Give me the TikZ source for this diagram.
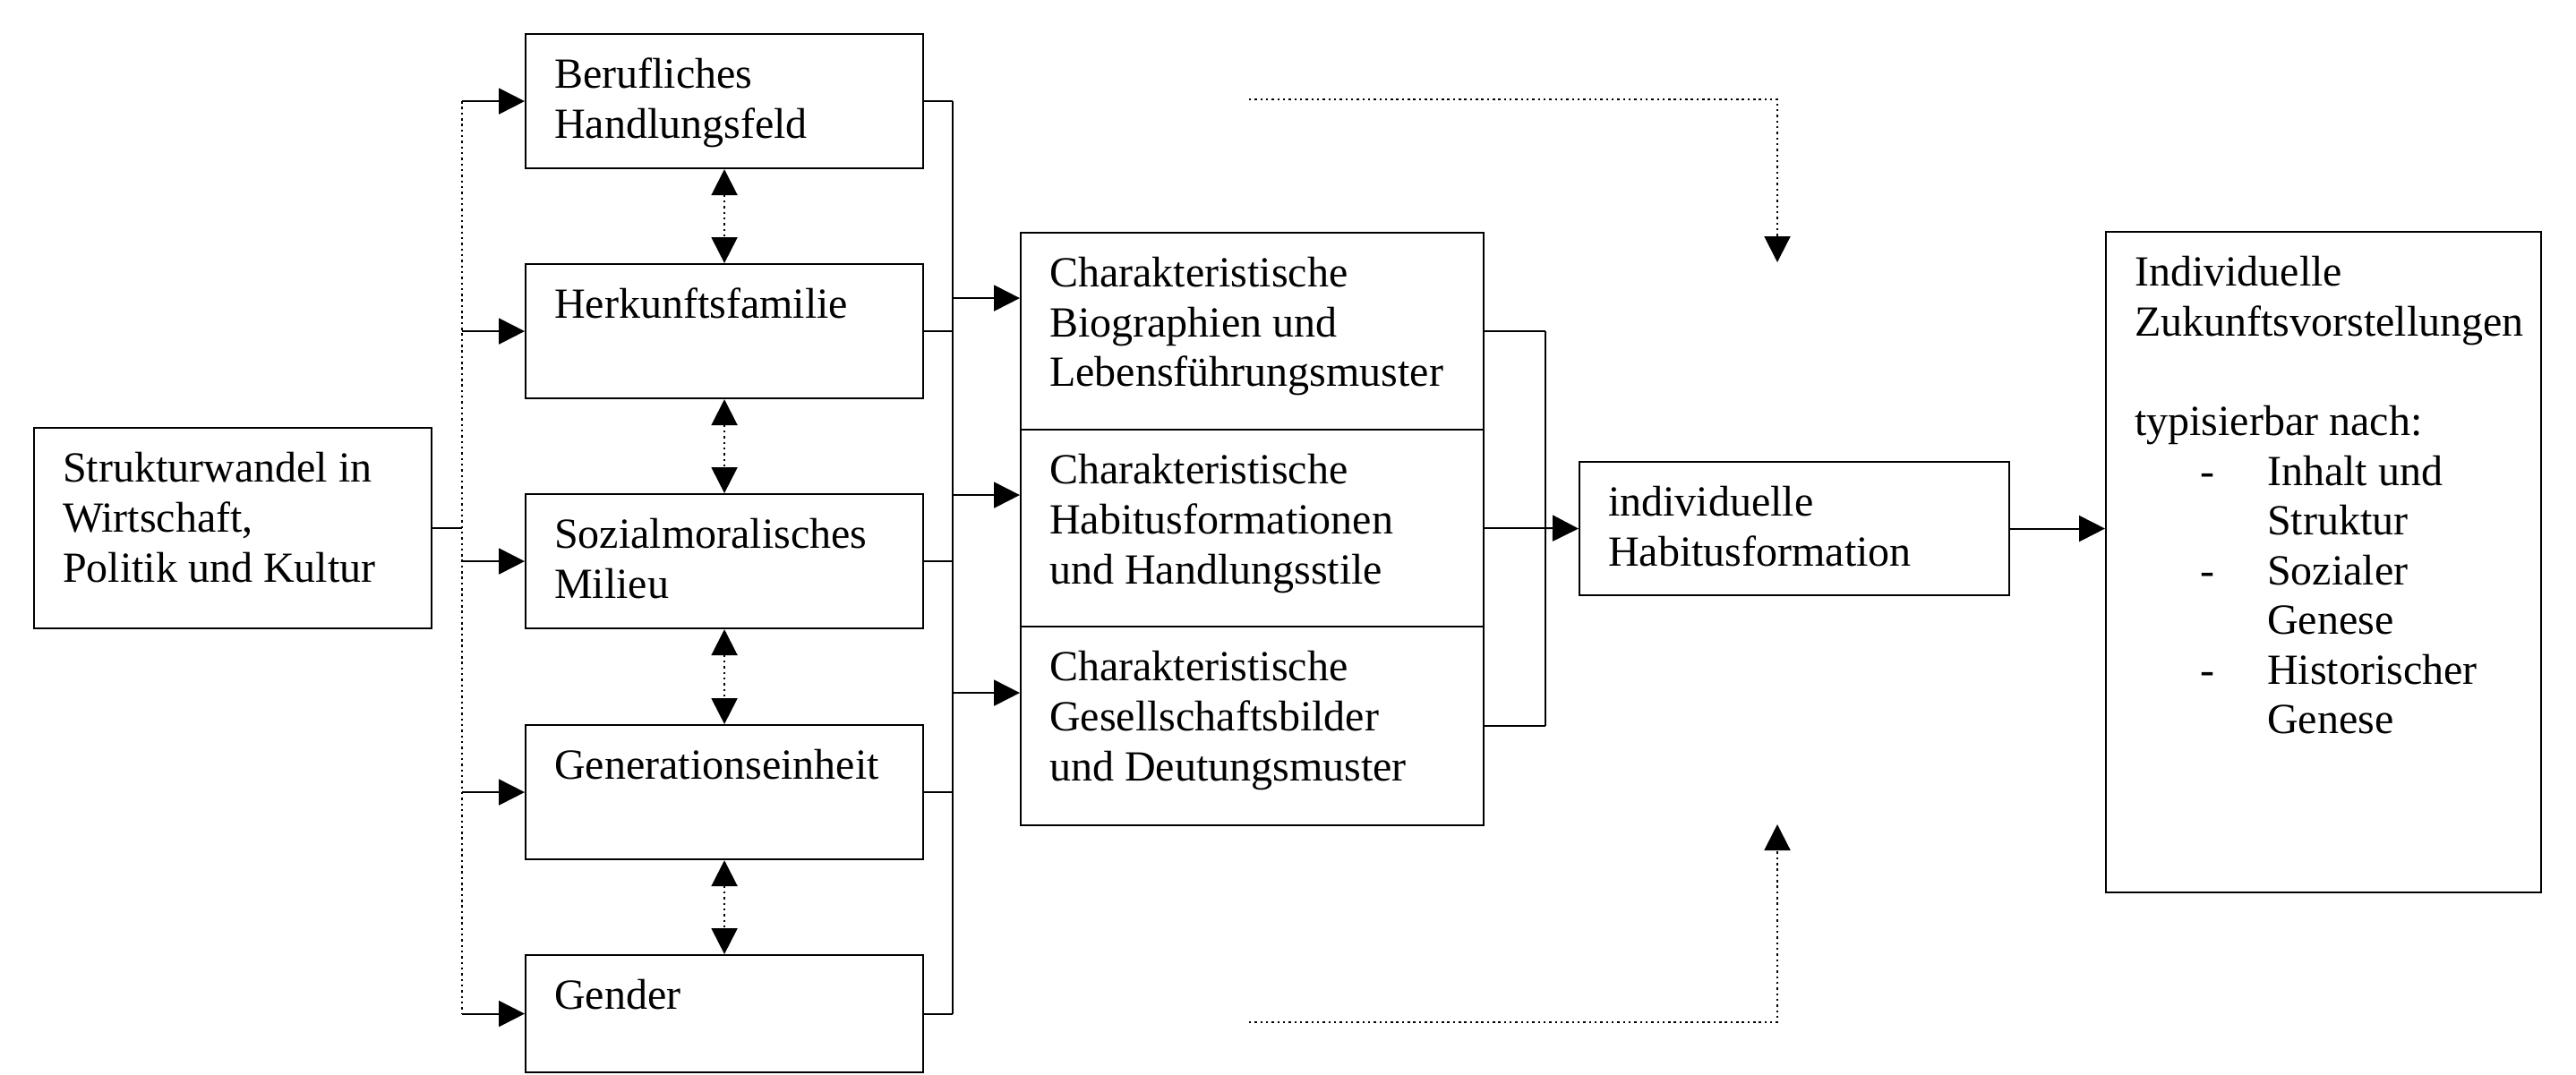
\documentclass[tikz,border=0pt]{standalone}
\usepackage{fontspec}
\setmainfont{Liberation Serif}
\usepackage{tikz}
\usetikzlibrary{arrows.meta,calc}
\tikzset{>={Triangle[length=2.9mm,width=2.9mm]}}
\tikzset{box/.style={draw,line width=0.6pt,anchor=north west,inner xsep=3.2mm,inner ysep=2.2mm,
    font=\fontsize{13.66}{15.8}\selectfont},
  link/.style={line width=0.6pt},
  dots/.style={line width=0.6pt,dash pattern=on 0.7pt off 1.1pt}}
\newcommand{\boxtext}[3]{\parbox[t][#2][t]{#1}{\raggedright\strut #3}}

\begin{document}
\begin{tikzpicture}
        \useasboundingbox (0,0) rectangle (28.77,-12.00);
        \node[box] (struk) at (0.37,-4.77) {\boxtext{3.80cm}{1.80cm}{Strukturwandel in\\Wirtschaft,\\Politik und Kultur}};
        \node[box] (beruf) at (5.86,-0.37) {\boxtext{3.80cm}{1.06cm}{Berufliches\\Handlungsfeld}};
        \node[box] (herk) at (5.86,-2.94) {\boxtext{3.80cm}{1.06cm}{Herkunftsfamilie}};
        \node[box] (sozial) at (5.86,-5.51) {\boxtext{3.80cm}{1.06cm}{Sozialmoralisches\\Milieu}};
        \node[box] (gen) at (5.86,-8.09) {\boxtext{3.80cm}{1.06cm}{Generationseinheit}};
        \node[box] (gender) at (5.86,-10.66) {\boxtext{3.80cm}{0.87cm}{Gender}};
        \node[box] (char1) at (11.39,-2.59) {\boxtext{4.53cm}{1.76cm}{Charakteristische\\Biographien und\\Lebensführungsmuster}};
        \node[box] (char2) at (11.39,-4.79) {\boxtext{4.53cm}{1.76cm}{Charakteristische\\Habitusformationen\\und Handlungsstile}};
        \node[box] (char3) at (11.39,-6.99) {\boxtext{4.53cm}{1.78cm}{Charakteristische\\Gesellschaftsbilder\\und Deutungsmuster}};
        \node[box] (indiv) at (17.63,-5.15) {\boxtext{4.16cm}{1.05cm}{individuelle\\Habitusformation}};
        \node[box] (zukunft) at (23.51,-2.58) {\boxtext{4.22cm}{6.94cm}{Individuelle\\Zukunftsvorstellungen\\[15.8pt]
          typisierbar nach:\\
          \hspace*{0.73cm}\makebox[0.75cm][l]{-}Inhalt und\\ \hspace*{1.48cm}Struktur\\
          \hspace*{0.73cm}\makebox[0.75cm][l]{-}Sozialer\\ \hspace*{1.48cm}Genese\\
          \hspace*{0.73cm}\makebox[0.75cm][l]{-}Historischer\\ \hspace*{1.48cm}Genese}};

        \coordinate (lbus) at (5.16,0);
        \coordinate (rbus) at (10.64,0);
        \coordinate (cbus) at (17.26,0);
        \coordinate (topstart) at (13.95,-1.11);
        \coordinate (topend) at (19.85,-2.93);
        \coordinate (botstart) at (13.95,-11.42);
        \coordinate (botend) at (19.85,-9.21);

        \draw[link] (struk.east) -- (struk.east -| lbus);
        \draw[dots] (beruf.west -| lbus) -- (gender.west -| lbus);
        \draw[link,->] (beruf.west -| lbus) -- (beruf.west);
        \draw[link,->] (herk.west -| lbus) -- (herk.west);
        \draw[link,->] (sozial.west -| lbus) -- (sozial.west);
        \draw[link,->] (gen.west -| lbus) -- (gen.west);
        \draw[link,->] (gender.west -| lbus) -- (gender.west);

        \draw[dots,<->] (beruf.south) -- (herk.north);
        \draw[dots,<->] (herk.south) -- (sozial.north);
        \draw[dots,<->] (sozial.south) -- (gen.north);
        \draw[dots,<->] (gen.south) -- (gender.north);

        \draw[link] (beruf.east) -- (beruf.east -| rbus);
        \draw[link] (herk.east) -- (herk.east -| rbus);
        \draw[link] (sozial.east) -- (sozial.east -| rbus);
        \draw[link] (gen.east) -- (gen.east -| rbus);
        \draw[link] (gender.east) -- (gender.east -| rbus);
        \draw[link] (beruf.east -| rbus) -- (gender.east -| rbus);
        \draw[link,->] ([yshift=3.7mm]char1.west -| rbus) -- ([yshift=3.7mm]char1.west);
        \draw[link,->] ([yshift=3.7mm]char2.west -| rbus) -- ([yshift=3.7mm]char2.west);
        \draw[link,->] ([yshift=3.7mm]char3.west -| rbus) -- ([yshift=3.7mm]char3.west);

        \draw[link] (char1.east) -- (char1.east -| cbus);
        \draw[link] (char2.east) -- (char2.east -| cbus);
        \draw[link] (char3.east) -- (char3.east -| cbus);
        \draw[link] (char1.east -| cbus) -- (char3.east -| cbus);
        \draw[link,->] (char2.east -| cbus) -- (indiv.west);

        \draw[link,->] (indiv.east) -- (indiv.east -| zukunft.west);

        \draw[dots,->] (topstart) -| (topend);
        \draw[dots,->] (botstart) -| (botend);
      \end{tikzpicture}
\end{document}
